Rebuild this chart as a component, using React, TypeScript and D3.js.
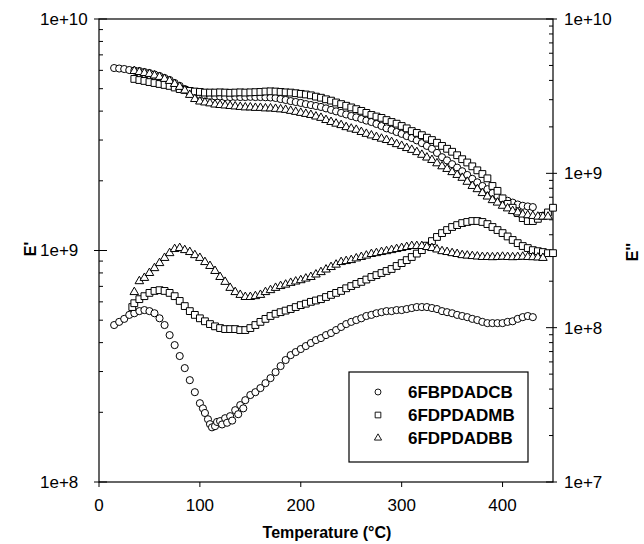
import React from "react";
import * as d3 from "d3";

type Pt = [number, number];

// E' storage modulus, [temperature °C, value in units of 1e9 Pa]
const storageCB: Pt[] = [
  [15, 6.14], [20, 6.11], [25, 6.08], [30, 6.02], [35, 5.99], [40, 5.96], [45, 5.9], [50, 5.84],
  [55, 5.76], [60, 5.67], [65, 5.56], [70, 5.45], [75, 5.29], [80, 5.14], [85, 4.98], [90, 4.86],
  [95, 4.77], [100, 4.7], [105, 4.68], [110, 4.65], [115, 4.63], [120, 4.63], [125, 4.6], [130, 4.6],
  [135, 4.61], [140, 4.6], [145, 4.6], [150, 4.61], [155, 4.6], [160, 4.6], [165, 4.59], [170, 4.58],
  [175, 4.56], [180, 4.51], [185, 4.47], [190, 4.42], [195, 4.38], [200, 4.34], [205, 4.29], [210, 4.25],
  [215, 4.21], [220, 4.17], [225, 4.11], [230, 4.05], [235, 3.99], [240, 3.93], [245, 3.87], [250, 3.81],
  [255, 3.76], [260, 3.7], [265, 3.64], [270, 3.59], [275, 3.52], [280, 3.45], [285, 3.37], [290, 3.32],
  [295, 3.25], [300, 3.19], [305, 3.12], [310, 3.06], [315, 2.99], [320, 2.91], [325, 2.83], [330, 2.75],
  [335, 2.64], [340, 2.53], [345, 2.45], [350, 2.36], [355, 2.28], [360, 2.2], [365, 2.12], [370, 2.04],
  [375, 1.97], [380, 1.9], [385, 1.84], [390, 1.77], [395, 1.72], [400, 1.67], [405, 1.64], [410, 1.61],
  [415, 1.58], [420, 1.56], [425, 1.55], [430, 1.54],
];
const storageMB: Pt[] = [
  [35, 5.51], [40, 5.45], [45, 5.4], [50, 5.34], [55, 5.29], [60, 5.24], [65, 5.19], [70, 5.14],
  [75, 5.06], [80, 4.98], [85, 4.94], [90, 4.89], [95, 4.86], [100, 4.84], [105, 4.81], [110, 4.81],
  [115, 4.81], [120, 4.82], [125, 4.81], [130, 4.8], [135, 4.81], [140, 4.82], [145, 4.81], [150, 4.82],
  [155, 4.83], [160, 4.84], [165, 4.86], [170, 4.87], [175, 4.86], [180, 4.84], [185, 4.82], [190, 4.81],
  [195, 4.78], [200, 4.75], [205, 4.72], [210, 4.68], [215, 4.62], [220, 4.57], [225, 4.5], [230, 4.44],
  [235, 4.36], [240, 4.29], [245, 4.22], [250, 4.15], [255, 4.08], [260, 4.01], [265, 3.93], [270, 3.85],
  [275, 3.79], [280, 3.74], [285, 3.66], [290, 3.59], [295, 3.53], [300, 3.45], [305, 3.37], [310, 3.28],
  [315, 3.22], [320, 3.15], [325, 3.07], [330, 3.0], [335, 2.92], [340, 2.83], [345, 2.75], [350, 2.67],
  [355, 2.58], [360, 2.48], [365, 2.4], [370, 2.31], [375, 2.22], [380, 2.14], [385, 2.05], [390, 1.9],
  [395, 1.81], [400, 1.68], [405, 1.59], [410, 1.53], [415, 1.45], [420, 1.38], [425, 1.34], [430, 1.34],
  [435, 1.37], [440, 1.41], [445, 1.46], [450, 1.53],
];
const storageBB: Pt[] = [
  [35, 5.96], [40, 5.9], [45, 5.84], [50, 5.79], [55, 5.7], [60, 5.62], [65, 5.51], [70, 5.4],
  [75, 5.24], [80, 5.09], [85, 4.91], [90, 4.7], [95, 4.51], [100, 4.4], [105, 4.36], [110, 4.32],
  [115, 4.27], [120, 4.25], [125, 4.23], [130, 4.21], [135, 4.19], [140, 4.17], [145, 4.15], [150, 4.15],
  [155, 4.13], [160, 4.13], [165, 4.11], [170, 4.11], [175, 4.09], [180, 4.07], [185, 4.05], [190, 4.01],
  [195, 3.97], [200, 3.93], [205, 3.89], [210, 3.85], [215, 3.79], [220, 3.74], [225, 3.66], [230, 3.59],
  [235, 3.53], [240, 3.48], [245, 3.41], [250, 3.36], [255, 3.32], [260, 3.25], [265, 3.19], [270, 3.14],
  [275, 3.09], [280, 3.04], [285, 3.0], [290, 2.94], [295, 2.88], [300, 2.83], [305, 2.77], [310, 2.72],
  [315, 2.66], [320, 2.59], [325, 2.52], [330, 2.46], [335, 2.38], [340, 2.31], [345, 2.25], [350, 2.18],
  [355, 2.12], [360, 2.06], [365, 1.98], [370, 1.9], [375, 1.84], [380, 1.77], [385, 1.71], [390, 1.65],
  [395, 1.61], [400, 1.56], [405, 1.52], [410, 1.48], [415, 1.46], [420, 1.43], [425, 1.42], [430, 1.41],
  [435, 1.4], [440, 1.4], [445, 1.4],
];

// E'' loss modulus, [temperature °C, value in units of 1e8 Pa]
const lossCB: Pt[] = [
  [15, 1.04], [20, 1.09], [25, 1.14], [30, 1.21], [35, 1.24], [40, 1.28], [45, 1.3], [50, 1.28],
  [55, 1.24], [60, 1.15], [65, 1.04], [70, 0.895], [75, 0.771], [80, 0.655], [85, 0.547], [90, 0.457],
  [95, 0.382], [100, 0.324], [103, 0.3], [105, 0.28], [108, 0.255], [110, 0.237], [112, 0.226],
  [115, 0.23], [117, 0.245], [120, 0.248], [122, 0.236], [125, 0.259], [127, 0.242], [130, 0.267],
  [132, 0.25], [135, 0.292], [138, 0.275], [140, 0.315], [143, 0.3], [145, 0.339], [150, 0.366],
  [155, 0.382], [160, 0.406], [165, 0.437], [170, 0.471], [175, 0.515], [180, 0.564], [185, 0.617],
  [190, 0.664], [195, 0.695], [200, 0.727], [205, 0.76], [210, 0.795], [215, 0.831], [220, 0.856],
  [225, 0.895], [230, 0.923], [235, 0.965], [240, 1.01], [245, 1.055], [250, 1.09], [255, 1.12],
  [260, 1.15], [265, 1.19], [270, 1.21], [275, 1.24], [280, 1.26], [285, 1.28], [290, 1.28], [295, 1.3],
  [300, 1.3], [305, 1.32], [310, 1.34], [315, 1.36], [320, 1.36], [325, 1.36], [330, 1.34], [335, 1.32],
  [340, 1.28], [345, 1.26], [350, 1.24], [355, 1.21], [360, 1.19], [365, 1.17], [370, 1.14], [375, 1.12],
  [380, 1.09], [385, 1.07], [390, 1.07], [395, 1.07], [400, 1.07], [405, 1.09], [410, 1.1], [415, 1.14],
  [420, 1.17], [425, 1.19], [430, 1.17],
];
const lossMB: Pt[] = [
  [33, 1.36], [35, 1.44], [40, 1.53], [45, 1.6], [50, 1.68], [55, 1.73], [60, 1.75], [65, 1.73],
  [70, 1.68], [75, 1.6], [80, 1.49], [85, 1.38], [90, 1.28], [95, 1.21], [100, 1.15], [105, 1.1],
  [110, 1.055], [115, 1.02], [120, 0.994], [125, 0.979], [130, 0.979], [135, 0.979], [140, 0.965],
  [145, 0.965], [150, 0.994], [155, 1.04], [160, 1.09], [165, 1.14], [170, 1.19], [175, 1.23], [180, 1.26],
  [185, 1.29], [190, 1.32], [195, 1.36], [200, 1.4], [205, 1.43], [210, 1.47], [215, 1.5], [220, 1.53],
  [225, 1.58], [230, 1.63], [235, 1.68], [240, 1.73], [245, 1.8], [250, 1.86], [255, 1.92], [260, 1.98],
  [265, 2.05], [270, 2.13], [275, 2.19], [280, 2.26], [285, 2.33], [290, 2.4], [295, 2.51], [300, 2.62],
  [305, 2.74], [310, 2.87], [315, 3.02], [320, 3.18], [325, 3.4], [330, 3.64], [335, 3.87], [340, 4.1],
  [345, 4.29], [350, 4.49], [355, 4.62], [360, 4.76], [365, 4.84], [370, 4.91], [375, 4.91], [380, 4.84],
  [385, 4.69], [390, 4.49], [395, 4.29], [400, 4.1], [405, 3.9], [410, 3.7], [415, 3.53], [420, 3.38],
  [425, 3.28], [430, 3.18], [435, 3.13], [440, 3.09], [445, 3.04], [450, 3.04],
];
const lossBB: Pt[] = [
  [35, 1.7], [40, 2.0], [45, 2.1], [50, 2.26], [55, 2.43], [60, 2.62], [65, 2.83], [70, 3.04],
  [75, 3.23], [80, 3.28], [85, 3.18], [90, 3.09], [95, 2.95], [100, 2.83], [105, 2.66], [110, 2.51],
  [115, 2.33], [120, 2.13], [125, 1.98], [130, 1.81], [135, 1.7], [140, 1.63], [145, 1.58], [150, 1.58],
  [155, 1.6], [160, 1.63], [165, 1.7], [170, 1.75], [175, 1.81], [180, 1.86], [185, 1.9], [190, 1.95],
  [195, 1.99], [200, 2.03], [205, 2.08], [210, 2.13], [215, 2.21], [220, 2.29], [225, 2.38], [230, 2.47],
  [235, 2.56], [240, 2.66], [245, 2.7], [250, 2.74], [255, 2.81], [260, 2.87], [265, 2.93], [270, 3.0],
  [275, 3.04], [280, 3.09], [285, 3.13], [290, 3.18], [295, 3.23], [300, 3.28], [305, 3.33], [310, 3.38],
  [315, 3.38], [320, 3.38], [325, 3.33], [330, 3.28], [335, 3.21], [340, 3.13], [345, 3.09], [350, 3.04],
  [355, 3.0], [360, 2.95], [365, 2.93], [370, 2.91], [375, 2.89], [380, 2.87], [385, 2.87], [390, 2.86],
  [395, 2.87], [400, 2.88], [405, 2.87], [410, 2.86], [415, 2.87], [420, 2.88], [425, 2.87], [430, 2.86],
  [435, 2.85], [440, 2.83],
];

const legendLabels = ["6FBPDADCB", "6FDPDADMB", "6FDPDADBB"];
const xTicks = [0, 100, 200, 300, 400];
const leftMajor = [1e8, 1e9, 1e10];
const rightMajor = [1e7, 1e8, 1e9, 1e10];

const W = 644;
const H = 544;
const left = 99, right = 553, top = 19, bottom = 482;
const font = "'Liberation Sans', Arial, Helvetica, sans-serif";

const x = d3.scaleLinear().domain([0, 450]).range([left, right]);
const yL = d3.scaleLog().domain([1e8, 1e10]).range([bottom, top]);
const yR = d3.scaleLog().domain([1e7, 1e10]).range([bottom, top]);

const shapes = [d3.symbolCircle, d3.symbolSquare, d3.symbolTriangle];
const sizes = [40, 46, 32];
const markerPath = (i: number, s = 1) => d3.symbol(shapes[i], sizes[i] * s)() as string;

const storage = [storageCB, storageMB, storageBB];
const loss = [lossCB, lossMB, lossBB];

export default function App() {
  const isMajor = (v: number) => Math.abs(Math.log10(v) - Math.round(Math.log10(v))) < 1e-6;
  return (
    <svg width={W} height={H} style={{ position: "absolute", left: 0, top: 0, background: "#fff" }}>
      <rect x={0} y={0} width={W} height={H} fill="#fff" />
      {/* frame */}
      <rect x={left} y={top} width={right - left} height={bottom - top} fill="none" stroke="#000" strokeWidth={1.2} />

      {/* left ticks */}
      {yL.ticks().map((v, i) => (
        <line key={"lt" + i} x1={isMajor(v) ? left - 5 : left} x2={isMajor(v) ? left + 8 : left + 4}
          y1={yL(v)} y2={yL(v)} stroke="#000" />
      ))}
      {/* right ticks */}
      {yR.ticks().map((v, i) => (
        <line key={"rt" + i} x1={isMajor(v) ? right - 7 : right - 4} x2={isMajor(v) ? right + 4 : right}
          y1={yR(v)} y2={yR(v)} stroke="#000" />
      ))}
      {/* bottom ticks */}
      {xTicks.map((t) => (
        <line key={"bt" + t} x1={x(t)} x2={x(t)} y1={bottom} y2={bottom + 5} stroke="#000" />
      ))}

      <g fontFamily={font} fontSize={17} fill="#000">
        {leftMajor.map((v) => (
          <text key={"ll" + v} x={40} y={yL(v)} dy="0.35em">{v.toExponential(0)}</text>
        ))}
        {rightMajor.map((v) => (
          <text key={"rl" + v} x={564} y={yR(v)} dy="0.35em">{v.toExponential(0)}</text>
        ))}
        {xTicks.map((t) => (
          <text key={"xl" + t} x={x(t)} y={511} textAnchor="middle">{t}</text>
        ))}
        <text x={327} y={538} textAnchor="middle" fontWeight="bold" fontSize={16}>Temperature (°C)</text>
        <text transform={`translate(36,249) rotate(-90)`} textAnchor="middle" fontWeight="bold" fontSize={16}>E'</text>
        <text transform={`translate(638,252) rotate(-90)`} textAnchor="middle" fontWeight="bold" fontSize={16}>E''</text>
      </g>

      {/* storage modulus, left axis */}
      {storage.map((s, si) => (
        <g key={"s" + si} fill="#fff" stroke="#000" strokeWidth={1}>
          {s.map(([t, v], j) => (
            <path key={j} d={markerPath(si)} transform={`translate(${x(t)},${yL(v * 1e9)})`} />
          ))}
        </g>
      ))}
      {/* loss modulus, right axis */}
      {loss.map((s, si) => (
        <g key={"l" + si} fill="#fff" stroke="#000" strokeWidth={1}>
          {s.map(([t, v], j) => (
            <path key={j} d={markerPath(si)} transform={`translate(${x(t)},${yR(v * 1e8)})`} />
          ))}
        </g>
      ))}

      {/* legend */}
      <rect x={349} y={372} width={179} height={90} fill="#fff" stroke="#000" strokeWidth={1.2} />
      {legendLabels.map((lab, i) => (
        <g key={lab} transform={`translate(0,${392 + i * 23})`}>
          <path d={markerPath(i, 0.7)} transform="translate(378,0)" fill="#fff" stroke="#000" strokeWidth={0.9} />
          <text x={408} dy="0.35em" fontFamily={font} fontSize={17} fontWeight="bold">{lab}</text>
        </g>
      ))}
    </svg>
  );
}
